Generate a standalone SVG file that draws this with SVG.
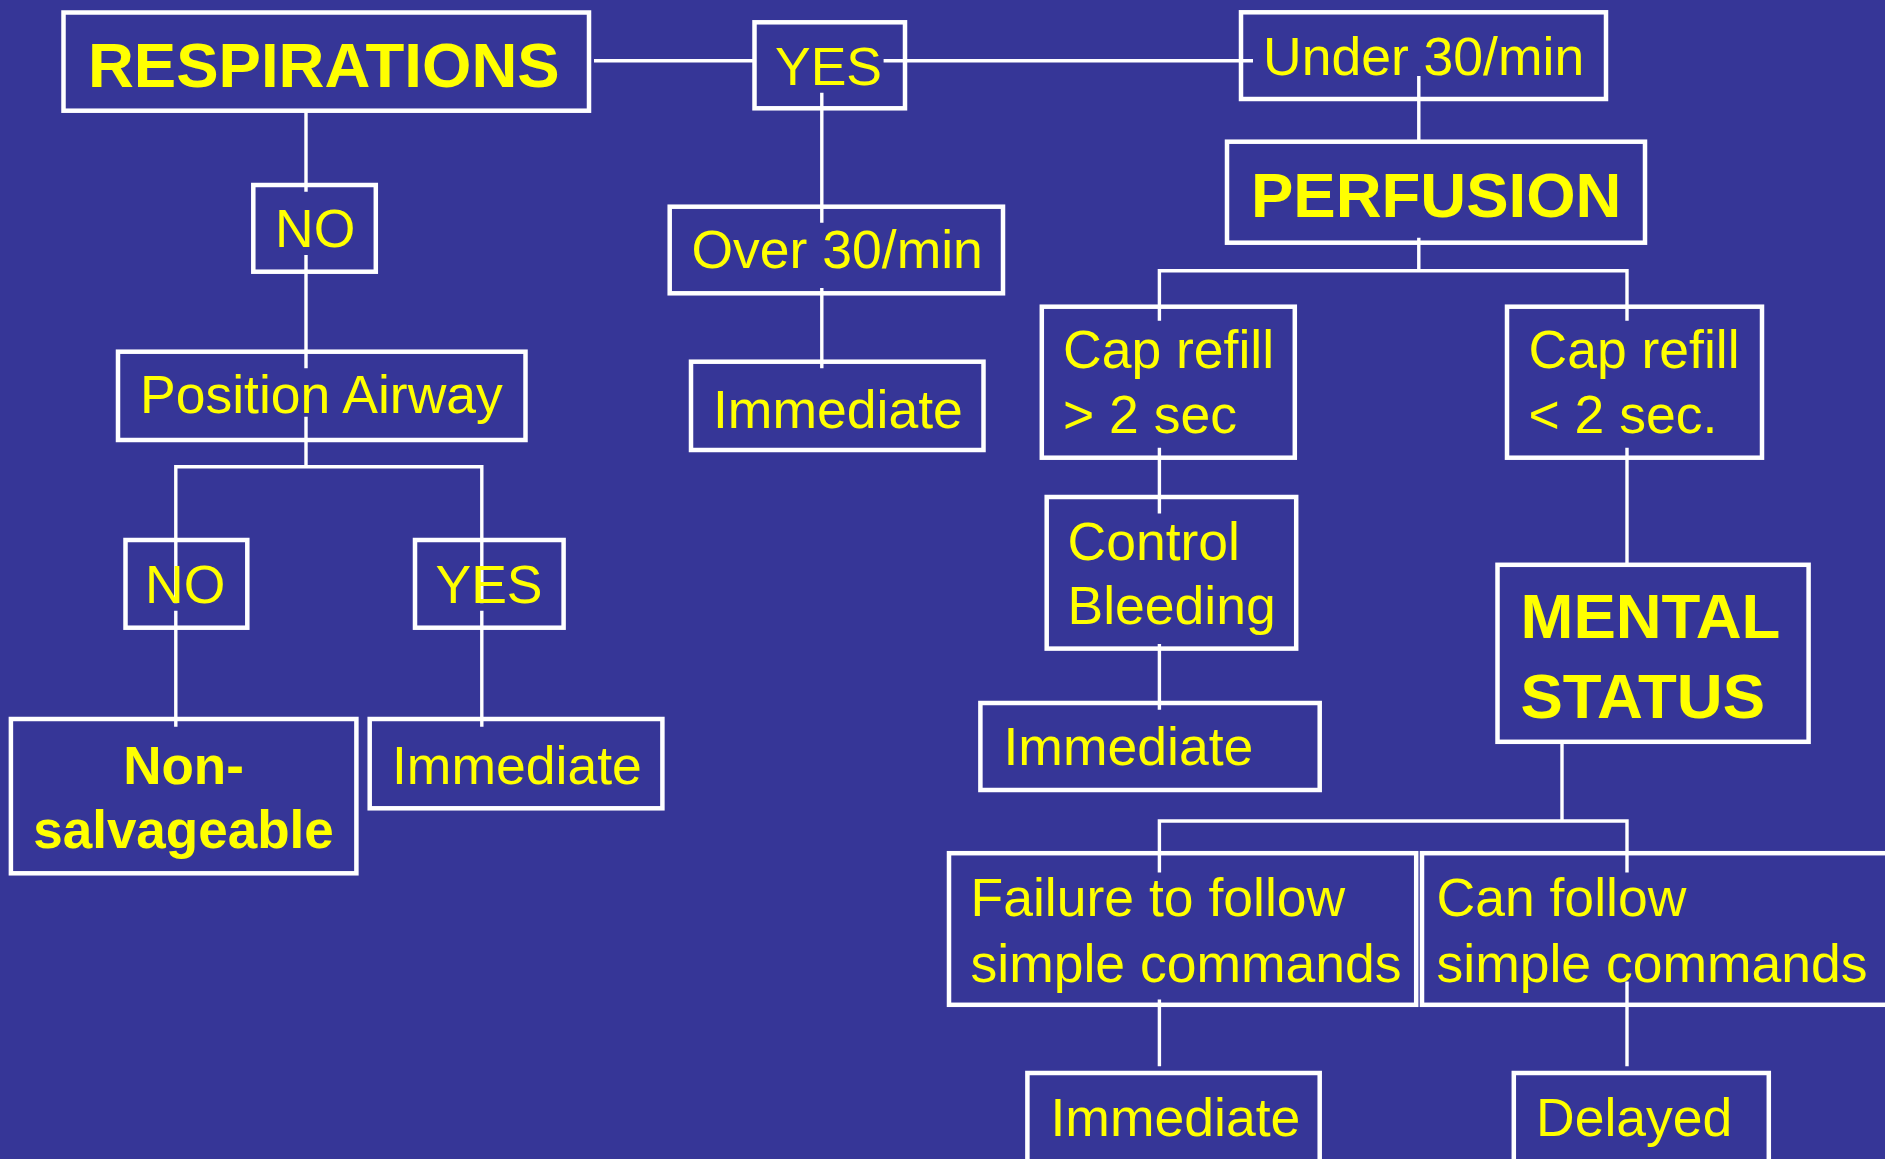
<svg xmlns="http://www.w3.org/2000/svg" width="1885" height="1159" viewBox="0 0 1885 1159">
<style>
.bx{fill:none;stroke:#ffffff;stroke-width:4.5}
.t{font-family:"Liberation Sans",Arial,sans-serif;font-size:53.5px;fill:#ffff00}
.b{font-family:"Liberation Sans",Arial,sans-serif;font-weight:bold;fill:#ffff00}
.ln{fill:none;stroke:#ffffff;stroke-width:3.4}
</style>
<rect x="0" y="0" width="1885" height="1159" fill="#363697"/>
<g id="connectors">
<path class="ln" d="M594 60.7H754.5M883.6 60.7H1253"/>
<path class="ln" d="M821.8 92.7V222.7M821.8 288V368.3"/>
<path class="ln" d="M1418.8 76V143M1418.8 237.7V270.7M1159.4 320.7V270.7H1627V320.7"/>
<path class="ln" d="M1159.4 447.7V513.5M1159.4 644V709.7M1627 447.7V563.4"/>
<path class="ln" d="M1562 741.8V821M1159.4 872.4V821H1627V872.4"/>
<path class="ln" d="M1159.4 999.5V1066.3M1627 981.6V1066.3"/>
<path class="ln" d="M306 110.7V191.7M306 255V368.3M306 416.7V466.7M175.8 603.3V466.7H481.8V603.3"/>
<path class="ln" d="M175.8 610.7V726.7M481.8 610.7V726.7"/>
</g>
<g id="n-respirations"><rect class="bx" x="63.5" y="12.5" width="525.5" height="98.2"/><text class="b" x="88" y="87.3" font-size="63.5">RESPIRATIONS</text></g>
<g id="n-yes-top"><rect class="bx" x="754.5" y="22.3" width="150.5" height="86"/><text class="t" x="775" y="85" font-size="54">YES</text></g>
<g id="n-under"><rect class="bx" x="1241" y="12.3" width="365" height="86.7"/><text class="t" x="1263" y="75">Under 30/min</text></g>
<g id="n-perfusion"><rect class="bx" x="1227" y="141.7" width="418" height="101"/><text class="b" x="1251" y="216.7" font-size="63.5">PERFUSION</text></g>
<g id="n-no-top"><rect class="bx" x="253.3" y="185" width="122.5" height="86.7"/><text class="t" x="275" y="247" font-size="54">NO</text></g>
<g id="n-over"><rect class="bx" x="669.7" y="206.7" width="333.3" height="86.6"/><text class="t" x="691.5" y="268">Over 30/min</text></g>
<g id="n-imm-mid"><rect class="bx" x="691" y="361.7" width="292.5" height="88.3"/><text class="t" x="713" y="427.5">Immediate</text></g>
<g id="n-position"><rect class="bx" x="118" y="351.7" width="407.5" height="88.3"/><text class="t" x="140" y="413">Position Airway</text></g>
<g id="n-no-low"><rect class="bx" x="125.5" y="540" width="121.8" height="87.7"/><text class="t" x="145" y="603.3" font-size="54">NO</text></g>
<g id="n-yes-low"><rect class="bx" x="415" y="540" width="148.6" height="87.7"/><text class="t" x="435.5" y="603.3" font-size="54">YES</text></g>
<g id="n-nonsalv"><rect class="bx" x="10.9" y="719" width="345.5" height="154.3"/><text class="b" x="183.5" y="784" font-size="53" text-anchor="middle">Non-</text><text class="b" x="183.5" y="848.3" font-size="53" text-anchor="middle">salvageable</text></g>
<g id="n-imm-left"><rect class="bx" x="369.7" y="719" width="292.7" height="89.3"/><text class="t" x="392" y="784">Immediate</text></g>
<g id="n-cap-gt"><rect class="bx" x="1041.8" y="306.7" width="253" height="151"/><text class="t" x="1063" y="368.3">Cap refill</text><text class="t" x="1063" y="433.3">&gt; 2 sec</text></g>
<g id="n-cap-lt"><rect class="bx" x="1507" y="306.7" width="255" height="151"/><text class="t" x="1528.5" y="368.3">Cap refill</text><text class="t" x="1528.5" y="433.3">&lt; 2 sec.</text></g>
<g id="n-control"><rect class="bx" x="1046.7" y="497" width="249.5" height="151.6"/><text class="t" x="1067.5" y="560.3">Control</text><text class="t" x="1067.5" y="624">Bleeding</text></g>
<g id="n-imm-perf"><rect class="bx" x="980.4" y="703" width="339.3" height="87"/><text class="t" x="1003.5" y="765.4">Immediate</text></g>
<g id="n-mental"><rect class="bx" x="1497.5" y="564.8" width="311.1" height="177"/><text class="b" x="1520.5" y="638.3" font-size="63.5">MENTAL</text><text class="b" x="1520.5" y="717.7" font-size="63.5">STATUS</text></g>
<g id="n-failure"><rect class="bx" x="949" y="853.2" width="467.2" height="151.6"/><text class="t" x="970.5" y="915.6">Failure to follow</text><text class="t" x="970.5" y="981.6">simple commands</text></g>
<g id="n-can"><rect class="bx" x="1422" y="853.2" width="478" height="151.6"/><text class="t" x="1436.5" y="915.6">Can follow</text><text class="t" x="1436.5" y="981.6">simple commands</text></g>
<g id="n-imm-bottom"><rect class="bx" x="1027.4" y="1073" width="292.3" height="100"/><text class="t" x="1050.5" y="1135.5">Immediate</text></g>
<g id="n-delayed"><rect class="bx" x="1513.8" y="1073" width="255" height="100"/><text class="t" x="1536" y="1135.5">Delayed</text></g>
</svg>
